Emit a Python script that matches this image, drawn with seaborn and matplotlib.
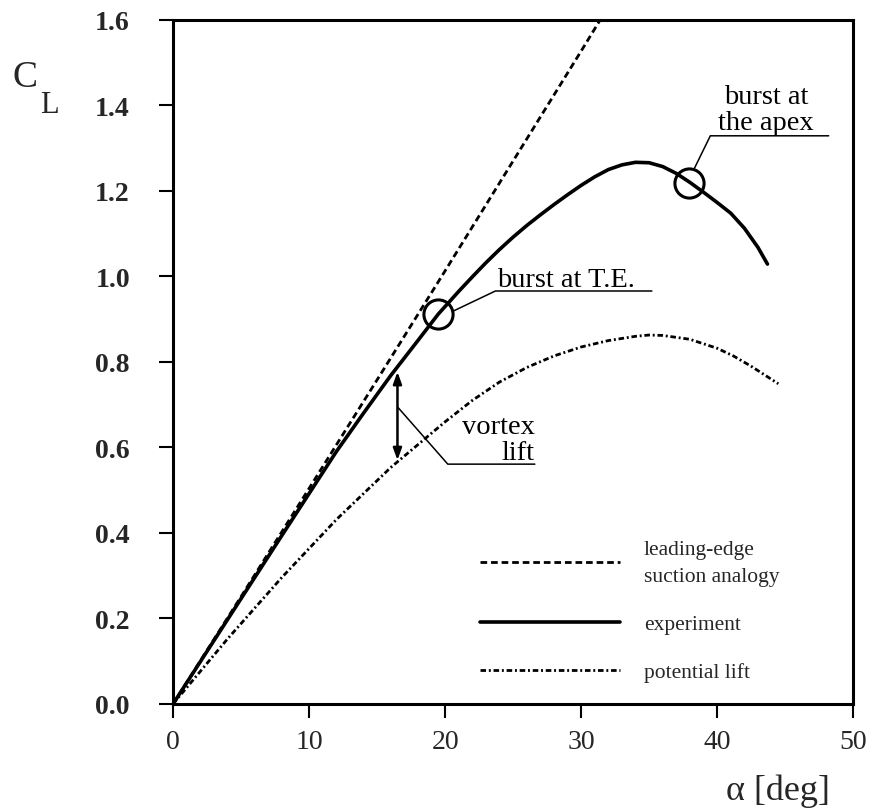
import numpy as np
import pandas as pd
import matplotlib
matplotlib.use("Agg")
import matplotlib.pyplot as plt
import seaborn as sns

# Curves: angle of attack [deg] -> lift coefficient
suction_alpha = [0, 5, 10, 15, 20, 25, 30, 31.4]
suction_cl = [0.0, 0.251, 0.504, 0.758, 1.013, 1.270, 1.527, 1.60]

experiment_alpha = [0, 4, 8, 12, 14, 16, 18, 19.5, 21, 22, 23, 24, 25, 26, 27,
                    28, 29, 30, 31, 32, 33, 34, 35, 36, 37, 38, 39, 40, 41,
                    42, 43, 43.7]
experiment_cl = [0.0, 0.197, 0.394, 0.59, 0.68, 0.768, 0.85, 0.912, 0.965, 0.999,
                 1.032, 1.063, 1.092, 1.119, 1.144, 1.168, 1.191, 1.213, 1.233,
                 1.25, 1.261, 1.267, 1.266, 1.257, 1.241, 1.22, 1.197, 1.173,
                 1.148, 1.113, 1.068, 1.029]

potential_alpha = [0, 4, 8, 12, 16, 20, 22, 24, 26, 28, 30, 32, 34, 35, 36, 38,
                   40, 41.2, 42.5, 44.5]
potential_cl = [0.0, 0.152, 0.296, 0.431, 0.553, 0.66, 0.71, 0.753, 0.787,
                0.814, 0.835, 0.85, 0.86, 0.863, 0.862, 0.853, 0.832, 0.814,
                0.79, 0.749]

# vortex burst markers
burst_alpha = [19.5, 37.9]
burst_cl = [0.912, 1.219]

# vortex lift arrow
vortex_alpha = 16.5
vortex_cl_low = 0.57
vortex_cl_high = 0.777

legend_labels = ["leading-edge\nsuction analogy", "experiment", "potential lift"]
x_ticks = [0, 10, 20, 30, 40, 50]
y_ticks = [0.0, 0.2, 0.4, 0.6, 0.8, 1.0, 1.2, 1.4, 1.6]
y_tick_labels = ["0.0", "0.2", "0.4", "0.6", "0.8", "1.0", "1.2", "1.4", "1.6"]

sns.set_theme(style="ticks")
plt.rcParams["font.family"] = ["Liberation Serif", "DejaVu Serif"]

fig = plt.figure(figsize=(8.72, 8.12), dpi=100)
ax = fig.add_axes([0.1984, 0.1318, 0.780, 0.8424])

suction = pd.DataFrame({"alpha": suction_alpha, "CL": suction_cl})
experiment = pd.DataFrame({"alpha": experiment_alpha, "CL": experiment_cl})
potential = pd.DataFrame({"alpha": potential_alpha, "CL": potential_cl})

sns.lineplot(data=suction, x="alpha", y="CL", ax=ax, color="black", lw=2.0,
             linestyle=(0, (2.4, 1.4)), label=legend_labels[0])
sns.lineplot(data=experiment, x="alpha", y="CL", ax=ax, color="black", lw=2.6,
             linestyle="-", label=legend_labels[1])
sns.lineplot(data=potential, x="alpha", y="CL", ax=ax, color="black", lw=2.0,
             linestyle=(0, (2.0, 1.0, 0.7, 1.0)), label=legend_labels[2])

# burst circles
ax.plot(burst_alpha, burst_cl, linestyle="none", marker="o", ms=21,
        mfc="none", mec="black", mew=2.2)

# leader lines (annotation geometry)
ax.plot([20.6, 23.7, 35.2], [0.919, 0.966, 0.966], color="black", lw=1.1)
ax.plot([38.3, 39.5, 48.2], [1.251, 1.329, 1.329], color="black", lw=1.1)
ax.plot([16.5, 20.2, 26.6], [0.695, 0.561, 0.561], color="black", lw=1.1)

ax.annotate("", xy=(vortex_alpha, vortex_cl_high), xytext=(vortex_alpha, vortex_cl_low),
            arrowprops=dict(arrowstyle="<|-|>,head_length=0.5,head_width=0.18",
                            color="black", lw=1.8, shrinkA=0, shrinkB=0,
                            mutation_scale=14))

ann = dict(fontsize=20.5, color="black")
ax.text(23.8, 0.978, "burst at T.E.", ha="left", va="baseline", **ann)
ax.text(43.6, 1.405, "burst at", ha="center", va="baseline", **ann)
ax.text(43.6, 1.345, "the apex", ha="center", va="baseline", **ann)
ax.text(26.6, 0.634, "vortex", ha="right", va="baseline", **ann)
ax.text(26.6, 0.573, "lift", ha="right", va="baseline", **ann)

ax.set_xlim(0, 50)
ax.set_ylim(0, 1.6)
ax.set_xticks(x_ticks)
ax.set_xticklabels([str(t) for t in x_ticks], fontsize=20)
ax.set_yticks(y_ticks)
ax.set_yticklabels(y_tick_labels, fontsize=20, fontweight="bold")
ax.tick_params(axis="both", direction="out", length=10, width=1.5, color="black")
ax.tick_params(axis="y", pad=21)
ax.tick_params(axis="x", pad=8)
ax.set_xlabel("")
ax.set_ylabel("")
for side in ["left", "bottom", "top", "right"]:
    ax.spines[side].set_visible(True)
    ax.spines[side].set_linewidth(2.2)
    ax.spines[side].set_color("black")

handles = ax.get_lines()[:3]
leg = ax.legend(handles, legend_labels, loc="upper left",
                bbox_to_anchor=(0.4515, 0.24), frameon=False, fontsize=15.5,
                handlelength=6.5, handletextpad=1.1, labelspacing=1.3,
                borderpad=0, borderaxespad=0)
for t in leg.get_texts():
    t.set_linespacing(1.6)

fig.text(12 / 872, 1 - 87 / 812, "C", fontsize=27, ha="left", va="baseline")
fig.text(40 / 872, 1 - 113 / 812, "L", fontsize=22, ha="left", va="baseline")
fig.text(830 / 872, 1 - 800 / 812, "α [deg]", fontsize=26, ha="right", va="baseline")

fig.savefig("out.png", dpi=100)
